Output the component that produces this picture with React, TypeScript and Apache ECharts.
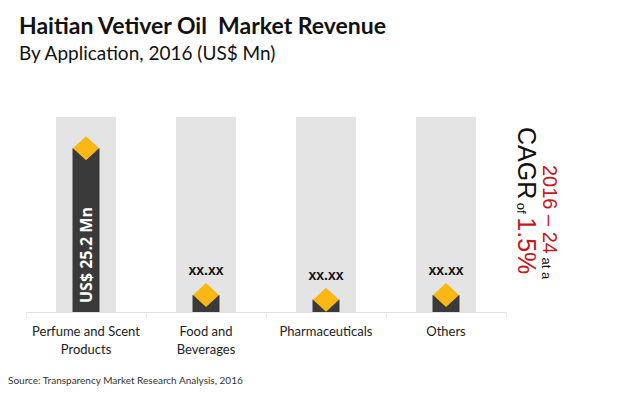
import React, { useEffect, useRef } from "react";
import * as echarts from "echarts";

const categories = ["Perfume and Scent\nProducts", "Food and\nBeverages", "Pharmaceuticals", "Others"];
const values = [25.2, 2.6, 1.9, 2.6];
const backgroundValues = [30, 30, 30, 30];
const barLabels = ["US$ 25.2 Mn", "", "", ""];
const pointLabels = ["", "xx.xx", "xx.xx", "xx.xx"];
const titleText = "Haitian Vetiver Oil  Market Revenue";
const subtitleText = "By Application, 2016 (US$ Mn)";
const sourceText = "Source: Transparency Market Research Analysis, 2016";

export default function App() {
  const ref = useRef<HTMLDivElement>(null);
  useEffect(() => {
    document.body.style.margin = "0";
    const chart = echarts.init(ref.current!, null, { renderer: "svg" });
    chart.setOption({
      animation: false,
      title: {
        text: titleText,
        subtext: subtitleText,
        left: 14,
        top: 8,
        itemGap: 7,
        textStyle: { fontFamily: "Lato", fontWeight: "bold", fontSize: 23, color: "#111" },
        subtextStyle: { fontFamily: "Lato", fontSize: 19, color: "#111" },
      },
      grid: { left: 26, right: 114, top: 117, bottom: 81 },
      xAxis: [
        {
          type: "category",
          data: categories,
          axisLine: { lineStyle: { color: "#e2e2e2" } },
          axisTick: { show: true, length: 6, lineStyle: { color: "#ececec" } },
          axisLabel: { fontFamily: "Lato", fontSize: 13, color: "#222", lineHeight: 18, margin: 10, interval: 0 },
        },
        { type: "category", data: categories, show: false },
      ],
      yAxis: { type: "value", min: 0, max: 30, show: false },
      series: [
        {
          type: "bar",
          xAxisIndex: 1,
          data: backgroundValues,
          barWidth: 60,
          itemStyle: { color: "#e4e4e4" },
          silent: true,
          z: 1,
        },
        {
          type: "bar",
          xAxisIndex: 0,
          data: values.map((v, i) => ({
            value: v,
            label: {
              show: barLabels[i] !== "",
              formatter: barLabels[i],
              position: "insideBottom",
              rotate: 90,
              align: "left",
              verticalAlign: "middle",
              distance: 9,
              color: "#fff",
              fontFamily: "Open Sans",
              fontWeight: "bold",
              fontSize: 16,
            },
          })),
          barWidth: 27,
          itemStyle: { color: "#3a3a3a" },
          z: 2,
        },
        {
          type: "scatter",
          xAxisIndex: 0,
          symbol: "diamond",
          symbolSize: [26, 24],
          itemStyle: { color: "#fbb714", opacity: 1 },
          data: values.map((v, i) => ({
            value: v,
            label: {
              show: pointLabels[i] !== "",
              formatter: pointLabels[i],
              position: "top",
              distance: 6,
              color: "#111",
              fontFamily: "Liberation Sans",
              fontWeight: "bold",
              fontSize: 14,
            },
          })),
          z: 3,
        },
      ],
      graphic: [
        {
          type: "text",
          x: 550,
          y: 165,
          rotation: -Math.PI / 2,
          style: {
            text: "{r|2016 – 24}{k| at a}",
            align: "left",
            verticalAlign: "middle",
            rich: {
              r: { fontFamily: "Liberation Sans", fontSize: 20, fill: "#c8161d", verticalAlign: "bottom" },
              k: { fontFamily: "Liberation Sans", fontSize: 13, fill: "#111", verticalAlign: "bottom" },
            },
          },
        },
        {
          type: "text",
          x: 527,
          y: 127,
          rotation: -Math.PI / 2,
          style: {
            text: "{k|CAGR}{s| of }{r|1.5%}",
            align: "left",
            verticalAlign: "middle",
            rich: {
              k: { fontFamily: "Liberation Sans", fontSize: 25, fill: "#111", verticalAlign: "bottom" },
              s: { fontFamily: "Liberation Sans", fontSize: 13, fill: "#111", verticalAlign: "bottom" },
              r: { fontFamily: "Liberation Sans", fontSize: 25, fill: "#c8161d", verticalAlign: "bottom" },
            },
          },
        },
        {
          type: "text",
          left: 8,
          top: 375,
          style: { text: sourceText, fontFamily: "Lato", fontSize: 10, fill: "#333" },
        },
      ],
    });
    return () => chart.dispose();
  }, []);
  return <div ref={ref} style={{ width: 620, height: 393 }} />;
}
